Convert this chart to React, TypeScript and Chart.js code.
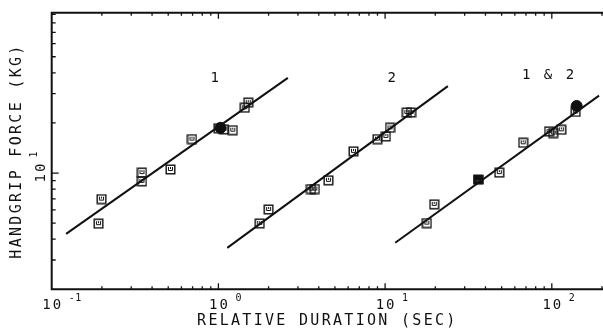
import React, { useEffect, useRef } from 'react';
import { Chart, registerables } from 'chart.js';

Chart.register(...registerables);

// ---- axis ranges / ticks ----
const xMin = 0.1;
const xMax = 202.8;
const yMin = 2;
const yMax = 92;
const xTickValues = [0.1, 1, 10, 100];
const xTickExponents = ['-1', '0', '1', '2'];
const yTickValues = [10];
const yTickExponents = ['1'];
const minorMultipliers = [1, 2, 3, 4, 5, 6, 7, 8, 9];
const xDecades = [0.1, 1, 10, 100];
const yDecades = [1, 10];

// ---- series 1 ----
const s1X = [0.191, 0.199, 0.348, 0.348, 0.516, 0.694, 1.0, 1.08, 1.22, 1.44, 1.51];
const s1Y = [4.96, 6.97, 10.06, 8.91, 10.5, 16.0, 18.6, 18.3, 18.1, 24.7, 26.5];
const fit1X = [0.122, 2.61];
const fit1Y = [4.31, 37.3];

// ---- series 2 ----
const s2X = [1.77, 2.0, 3.59, 3.79, 4.57, 6.46, 8.99, 10.1, 10.7, 13.5, 14.3];
const s2Y = [4.98, 6.04, 8.01, 8.01, 9.04, 13.5, 16.0, 16.6, 18.7, 23.1, 23.1];
const fit2X = [1.13, 23.8];
const fit2Y = [3.55, 33.3];

// ---- series 1 & 2 combined ----
const s3X = [17.8, 19.7, 36.2, 48.4, 67.3, 96.3, 102, 114, 139];
const s3Y = [5.0, 6.48, 9.13, 10.06, 15.2, 17.8, 17.4, 18.2, 23.3];
const fit3X = [11.5, 192];
const fit3Y = [3.81, 29.2];

// overlapping (dark) markers
const darkCircleX = [1.03, 141];
const darkCircleY = [18.7, 25.3];
const darkSquareX = [36.2];
const darkSquareY = [9.13];

// curve labels
const annoText = ['1', '2', '1 & 2'];
const annoX = [0.95, 10.95, 95];
const annoY = [37.3, 37.3, 38.8];

const INK = '#111';
const MONO = '"DejaVu Sans Mono", "Liberation Mono", monospace';

function makeSquare(filled: boolean): HTMLCanvasElement {
  const c = document.createElement('canvas');
  c.width = 11;
  c.height = 11;
  const g = c.getContext('2d')!;
  if (filled) {
    g.fillStyle = INK;
    g.fillRect(0.5, 1, 10, 9);
    g.strokeStyle = '#fff';
    g.lineWidth = 1;
    g.beginPath();
    g.moveTo(3.5, 6.5);
    g.lineTo(7.5, 6.5);
    g.stroke();
  } else {
    g.strokeStyle = INK;
    g.lineWidth = 1.4;
    g.strokeRect(1.2, 1.2, 8.6, 8.6);
    g.lineWidth = 1;
    g.beginPath();
    g.moveTo(3.5, 3);
    g.lineTo(3.5, 6.5);
    g.lineTo(7.5, 6.5);
    g.lineTo(7.5, 3);
    g.moveTo(5.5, 3);
    g.lineTo(5.5, 5);
    g.stroke();
  }
  return c;
}

const pts = (xs: number[], ys: number[]) => xs.map((x, i) => ({ x, y: ys[i] }));

const framePlugin = {
  id: 'frame',
  beforeDraw(chart: any) {
    chart.ctx.letterSpacing = '2.3px';
  },
  afterDraw(chart: any) {
    const { ctx, chartArea: a, scales } = chart;
    const xs = scales.x;
    const ys = scales.y;
    ctx.save();
    ctx.letterSpacing = '0px';
    ctx.strokeStyle = INK;
    ctx.lineWidth = 2;
    ctx.beginPath();
    ctx.moveTo(a.right, a.top);
    ctx.lineTo(a.left, a.top);
    ctx.lineTo(a.left, a.bottom);
    ctx.lineTo(a.right, a.bottom);
    ctx.stroke();

    ctx.lineWidth = 1.3;
    ctx.beginPath();
    xDecades.forEach((d) => {
      minorMultipliers.forEach((m) => {
        const v = d * m;
        if (v <= xMin || v > xMax) return;
        const px = xs.getPixelForValue(v);
        const len = m === 1 ? 6 : 3;
        ctx.moveTo(px, a.bottom);
        ctx.lineTo(px, a.bottom - len);
        ctx.moveTo(px, a.top);
        ctx.lineTo(px, a.top + len);
      });
    });
    yDecades.forEach((d) => {
      minorMultipliers.forEach((m) => {
        const v = d * m;
        if (v <= yMin || v >= yMax) return;
        const py = ys.getPixelForValue(v);
        const len = m === 1 ? 7 : 4;
        ctx.moveTo(a.left, py);
        ctx.lineTo(a.left + len, py);
      });
    });
    ctx.stroke();

    // x tick labels: 10 with superscript exponent
    ctx.fillStyle = INK;
    ctx.textBaseline = 'alphabetic';
    xTickValues.forEach((v, i) => {
      const px = xs.getPixelForValue(v);
      ctx.font = `14px ${MONO}`;
      ctx.letterSpacing = '2px';
      ctx.textAlign = 'center';
      ctx.fillText('10', px + 1, 309);
      ctx.font = `10px ${MONO}`;
      ctx.letterSpacing = '0.5px';
      ctx.textAlign = 'left';
      ctx.fillText(xTickExponents[i], px + 17, 300.5);
    });

    // y tick label (rotated)
    yTickValues.forEach((v, i) => {
      const py = ys.getPixelForValue(v);
      ctx.save();
      ctx.translate(a.left - 10.7, py);
      ctx.rotate(-Math.PI / 2);
      ctx.textBaseline = 'middle';
      ctx.font = `14px ${MONO}`;
      ctx.letterSpacing = '2px';
      ctx.textAlign = 'center';
      ctx.fillText('10', 1, 0);
      ctx.font = `10px ${MONO}`;
      ctx.letterSpacing = '0px';
      ctx.textAlign = 'left';
      ctx.fillText(yTickExponents[i], 15.5, -6.5);
      ctx.restore();
    });

    // curve labels
    ctx.font = `14px ${MONO}`;
    ctx.letterSpacing = '2.5px';
    ctx.textAlign = 'center';
    ctx.textBaseline = 'middle';
    annoText.forEach((t, i) => {
      ctx.fillText(t, xs.getPixelForValue(annoX[i]) + 1.2, ys.getPixelForValue(annoY[i]));
    });
    ctx.restore();
  },
};

export default function App() {
  const ref = useRef<HTMLCanvasElement>(null);
  useEffect(() => {
    const canvas = ref.current!;
    const sq = makeSquare(false);
    const sqDark = makeSquare(true);
    const lineDs = (xs: number[], ys: number[]) => ({
      data: pts(xs, ys),
      showLine: true,
      borderColor: INK,
      borderWidth: 2,
      pointRadius: 0,
    });
    const markDs = (xs: number[], ys: number[]) => ({
      data: pts(xs, ys),
      pointStyle: sq,
      pointRadius: 5,
      showLine: false,
    });
    const chart = new Chart(canvas, {
      type: 'scatter',
      data: {
        datasets: [
          lineDs(fit1X, fit1Y),
          lineDs(fit2X, fit2Y),
          lineDs(fit3X, fit3Y),
          markDs(s1X, s1Y),
          markDs(s2X, s2Y),
          markDs(s3X, s3Y),
          {
            data: pts(darkCircleX, darkCircleY),
            pointStyle: 'circle',
            pointRadius: 5.5,
            backgroundColor: INK,
            borderColor: INK,
            borderWidth: 1,
          },
          {
            data: pts(darkSquareX, darkSquareY),
            pointStyle: sqDark,
            pointRadius: 5,
          },
        ] as any,
      },
      options: {
        responsive: false,
        animation: false,
        devicePixelRatio: 1,
        layout: { autoPadding: false, padding: { top: 12.7, right: 0, bottom: 0, left: 0 } },
        plugins: { legend: { display: false }, tooltip: { enabled: false } },
        events: [],
        scales: {
          x: {
            type: 'logarithmic',
            min: xMin,
            max: xMax,
            grid: { display: false, drawTicks: false },
            border: { display: false },
            ticks: { display: false },
            title: {
              display: true,
              text: 'RELATIVE DURATION (SEC)',
              color: INK,
              font: { family: MONO, size: 15, lineHeight: 1 },
              padding: { top: 0, bottom: 0.5 },
            },
            afterFit: (s: any) => {
              s.height = 39.7;
              s.paddingLeft = 0;
              s.paddingRight = 0;
            },
          },
          y: {
            type: 'logarithmic',
            min: yMin,
            max: yMax,
            grid: { display: false, drawTicks: false },
            border: { display: false },
            ticks: { display: false },
            title: {
              display: true,
              text: 'HANDGRIP FORCE (KG)',
              color: INK,
              font: { family: MONO, size: 15, lineHeight: 1.2 },
              padding: { top: 8, bottom: 0 },
            },
            afterFit: (s: any) => {
              s.width = 51.7;
              s.paddingTop = 0;
              s.paddingBottom = 0;
            },
          },
        } as any,
      },
      plugins: [framePlugin],
    });
    return () => chart.destroy();
  }, []);

  return (
    <div style={{ position: 'fixed', left: 0, top: 0, width: 603, height: 329, background: '#fff' }}>
      <canvas ref={ref} width={603} height={329} style={{ display: 'block', width: 603, height: 329 }} />
    </div>
  );
}
